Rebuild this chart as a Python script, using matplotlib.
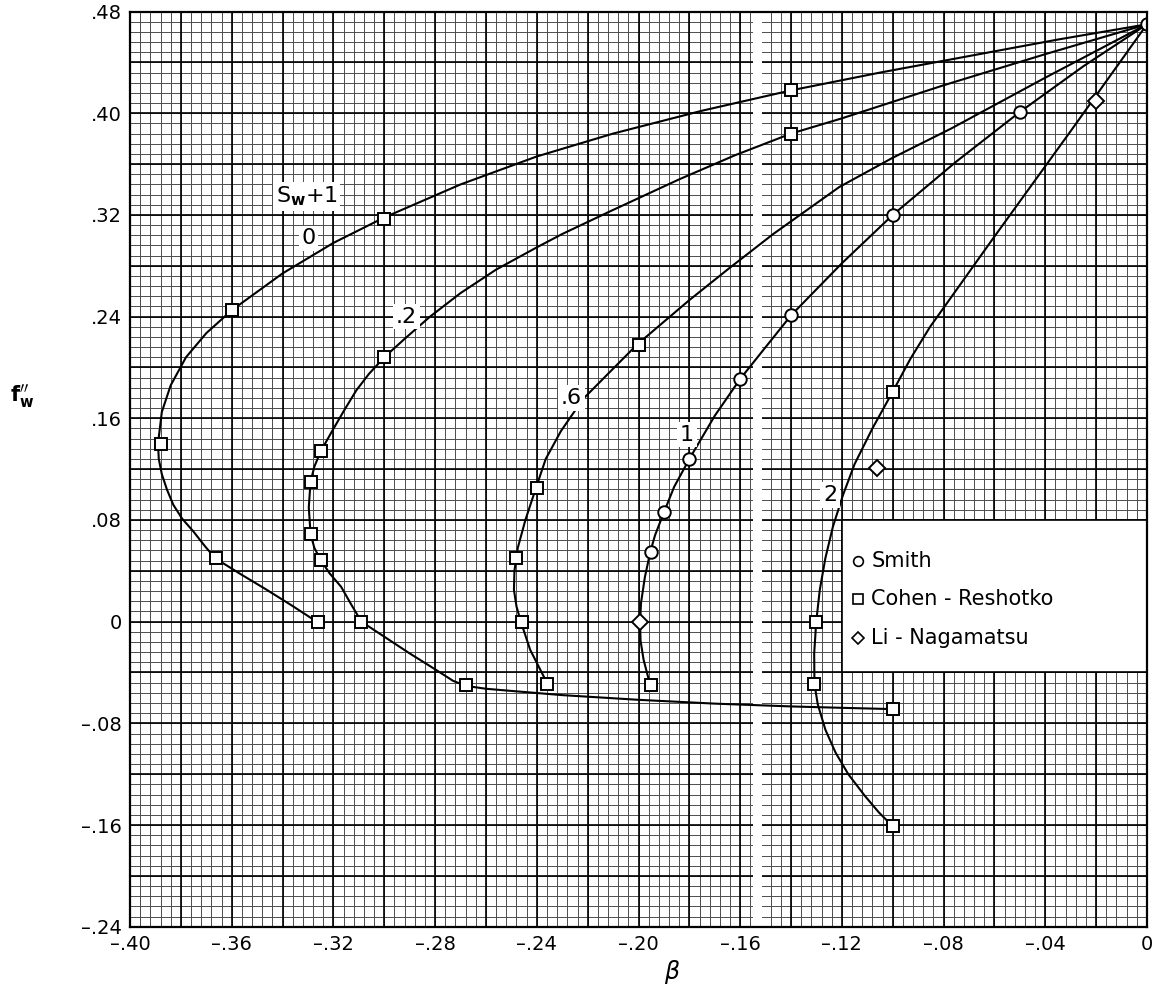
import numpy as np
import matplotlib.pyplot as plt
import matplotlib as mpl
from matplotlib.patches import Rectangle

mpl.rc('font', family='DejaVu Sans')

# curves (beta, f''_w), labelled by S_w + 1
c0_x = [0, -0.035, -0.07, -0.105, -0.14, -0.175, -0.21, -0.24, -0.27, -0.30,
        -0.32, -0.34, -0.36, -0.37, -0.378, -0.384, -0.3875, -0.389,
        -0.3887, -0.3875, -0.3855, -0.383, -0.3795, -0.3751, -0.371, -0.3666,
        -0.3566, -0.3466, -0.3366, -0.3266]
c0_y = [0.47, 0.458, 0.445, 0.432, 0.418, 0.402, 0.384, 0.366, 0.344, 0.318,
        0.298, 0.274, 0.245, 0.227, 0.208, 0.186, 0.165, 0.14,
        0.128, 0.116, 0.104, 0.092, 0.081, 0.071, 0.0605, 0.05,
        0.0375, 0.0255, 0.013, 0.0]

c2_x = [0, -0.04, -0.08, -0.12, -0.14, -0.162, -0.184, -0.211, -0.23, -0.24,
        -0.256, -0.27, -0.282, -0.292, -0.30, -0.306, -0.311, -0.316, -0.3205,
        -0.325, -0.3275, -0.329, -0.3297, -0.329, -0.3275, -0.325, -0.3215, -0.317,
        -0.313, -0.309, -0.2995, -0.29, -0.28, -0.273, -0.268, -0.26, -0.25, -0.23,
        -0.20, -0.17, -0.14, -0.12, -0.10]
c2_y = [0.47, 0.4465, 0.422, 0.396, 0.384, 0.367, 0.348, 0.323, 0.305, 0.2945,
        0.277, 0.2585, 0.240, 0.2225, 0.208, 0.195, 0.182, 0.1655, 0.150,
        0.134, 0.122, 0.110, 0.090, 0.069, 0.058, 0.0485, 0.038, 0.0275,
        0.0135, 0.0, -0.0125, -0.025, -0.0375, -0.0465, -0.0505, -0.0528, -0.0545, -0.0578,
        -0.0615, -0.0645, -0.0667, -0.0678, -0.0688]

c6_x = [0, -0.04, -0.077, -0.10, -0.121, -0.147, -0.165, -0.18, -0.2004, -0.211,
        -0.2218, -0.2305, -0.2365, -0.2403, -0.2445, -0.2475, -0.2488, -0.249,
        -0.248, -0.2463, -0.2426, -0.2358]
c6_y = [0.47, 0.428, 0.388, 0.365, 0.342, 0.305, 0.277, 0.253, 0.2183, 0.197,
        0.1752, 0.150, 0.128, 0.1054, 0.080, 0.058, 0.040, 0.025,
        0.012, 0.0, -0.0222, -0.049]

c10_x = [0, -0.025, -0.05, -0.075, -0.10, -0.12, -0.14, -0.16, -0.17, -0.18,
         -0.186, -0.19, -0.1935, -0.1954, -0.1975, -0.199, -0.1994, -0.1992, -0.198, -0.1954]
c10_y = [0.47, 0.437, 0.401, 0.362, 0.320, 0.282, 0.241, 0.191, 0.162, 0.128,
         0.106, 0.086, 0.068, 0.0546, 0.035, 0.015, 0.0, -0.015, -0.03, -0.050]

c20_x = [0, -0.03, -0.06, -0.0853, -0.093, -0.10, -0.108, -0.115, -0.1195, -0.1235,
         -0.1265, -0.1287, -0.1301, -0.1309, -0.1308, -0.1295, -0.1265, -0.1225,
         -0.1175, -0.111, -0.1055, -0.10]
c20_y = [0.47, 0.386, 0.303, 0.232, 0.207, 0.181, 0.152, 0.124, 0.100, 0.075,
         0.050, 0.025, 0.0, -0.025, -0.049, -0.065, -0.085, -0.103,
         -0.12, -0.137, -0.15, -0.161]

# data points
smith_x = [0, -0.05, -0.10, -0.14, -0.16, -0.18, -0.19, -0.195]
smith_y = [0.47, 0.401, 0.320, 0.241, 0.191, 0.128, 0.086, 0.055]
cohen_x = [-0.14, -0.30, -0.36, -0.388, -0.366, -0.326,
           -0.14, -0.30, -0.325, -0.329, -0.329, -0.325, -0.309, -0.268, -0.10,
           -0.20, -0.24, -0.248, -0.246, -0.236,
           -0.195,
           -0.10, -0.130, -0.131, -0.10]
cohen_y = [0.418, 0.317, 0.245, 0.140, 0.050, 0.0,
           0.384, 0.208, 0.134, 0.110, 0.069, 0.0485, 0.0, -0.050, -0.069,
           0.218, 0.105, 0.050, 0.0, -0.049,
           -0.050,
           0.181, 0.0, -0.049, -0.161]
li_x = [-0.02, -0.106, -0.1994]
li_y = [0.41, 0.121, 0.0]

curve_labels = ['0', '.2', '.6', '1', '2']
label_x = [-0.3298, -0.2912, -0.2263, -0.181, -0.1246]
label_y = [0.3017, 0.24, 0.1759, 0.147, 0.0997]

legend_names = ['Smith', 'Cohen - Reshotko', 'Li - Nagamatsu']
legend_marks = ['o', 's', 'D']

xticks = np.arange(-0.40, 0.001, 0.04)
yticks = np.arange(-0.24, 0.481, 0.08)


def fmt(v):
    if abs(v) < 1e-9:
        return '0'
    s = ('%.2f' % abs(v)).lstrip('0')
    return ('\u2013' + s) if v < 0 else s


fig = plt.figure(figsize=(11.56, 9.89), dpi=100)
ax = fig.add_axes([0.1125, 0.063, 0.8797, 0.9253])
ax.set_xlim(-0.4, 0)
ax.set_ylim(-0.24, 0.48)

# graph paper
gx = np.linspace(-0.4, 0, 101)
gy = np.linspace(-0.24, 0.48, 91)
ax.vlines(gx, -0.24, 0.48, colors='0.3', lw=0.7, zorder=1)
ax.hlines(gy, -0.4, 0, colors='0.3', lw=0.7, zorder=1)
ax.vlines(np.linspace(-0.4, 0, 21), -0.24, 0.48, colors='k', lw=1.2, zorder=1.1)
ax.hlines(np.linspace(-0.24, 0.48, 19), -0.4, 0, colors='k', lw=1.2, zorder=1.1)
ax.axvspan(-0.1548, -0.1513, color='white', lw=0, zorder=1.5)

ax.add_patch(Rectangle((-0.12, -0.04), 0.12, 0.12, facecolor='white',
                       edgecolor='k', lw=1.2, zorder=2))

for cx, cy in [(c0_x, c0_y), (c2_x, c2_y), (c6_x, c6_y), (c10_x, c10_y), (c20_x, c20_y)]:
    ax.plot(cx, cy, color='k', lw=1.5, zorder=3)

mk = dict(ls='none', mfc='white', mec='k', mew=1.4, zorder=4)
ax.plot(smith_x, smith_y, marker='o', ms=9, **mk)
ax.plot(cohen_x, cohen_y, marker='s', ms=9, **mk)
ax.plot(li_x, li_y, marker='D', ms=8, **mk)

tb = dict(facecolor='white', edgecolor='none', pad=2)
ax.text(-0.3305, 0.3344, r'S$_\mathbf{w}$+1', fontsize=16, ha='center', va='center',
        bbox=tb, zorder=5)
for s, lx, ly in zip(curve_labels, label_x, label_y):
    ax.text(lx, ly, s, fontsize=16, ha='center', va='center', bbox=tb, zorder=5)

for i, (name, m) in enumerate(zip(legend_names, legend_marks)):
    yy = 0.0478 - i * 0.0303
    ax.plot([-0.1136], [yy], marker=m, ms=7 if m != 'D' else 6, ls='none',
            mfc='white', mec='k', mew=1.2, zorder=6)
    ax.text(-0.1085, yy, name, fontsize=15, ha='left', va='center', zorder=6)

ax.set_xticks(xticks)
ax.set_yticks(yticks)
ax.set_xticklabels([fmt(v) for v in xticks])
ax.set_yticklabels([fmt(v) for v in yticks])
ax.tick_params(length=0, labelsize=14, pad=6)
for sp in ax.spines.values():
    sp.set_linewidth(1.6)
    sp.set_zorder(6)

fig.text(22 / 1156, 1 - 396 / 989, r'$\mathbf{f}_\mathbf{w}^{\prime\prime}$',
         fontsize=15, ha='center', va='center')
fig.text(672 / 1156, 1 - 972 / 989, '\u03b2', fontsize=17, fontstyle='italic',
         ha='center', va='center')

fig.savefig('out.png', dpi=100)
